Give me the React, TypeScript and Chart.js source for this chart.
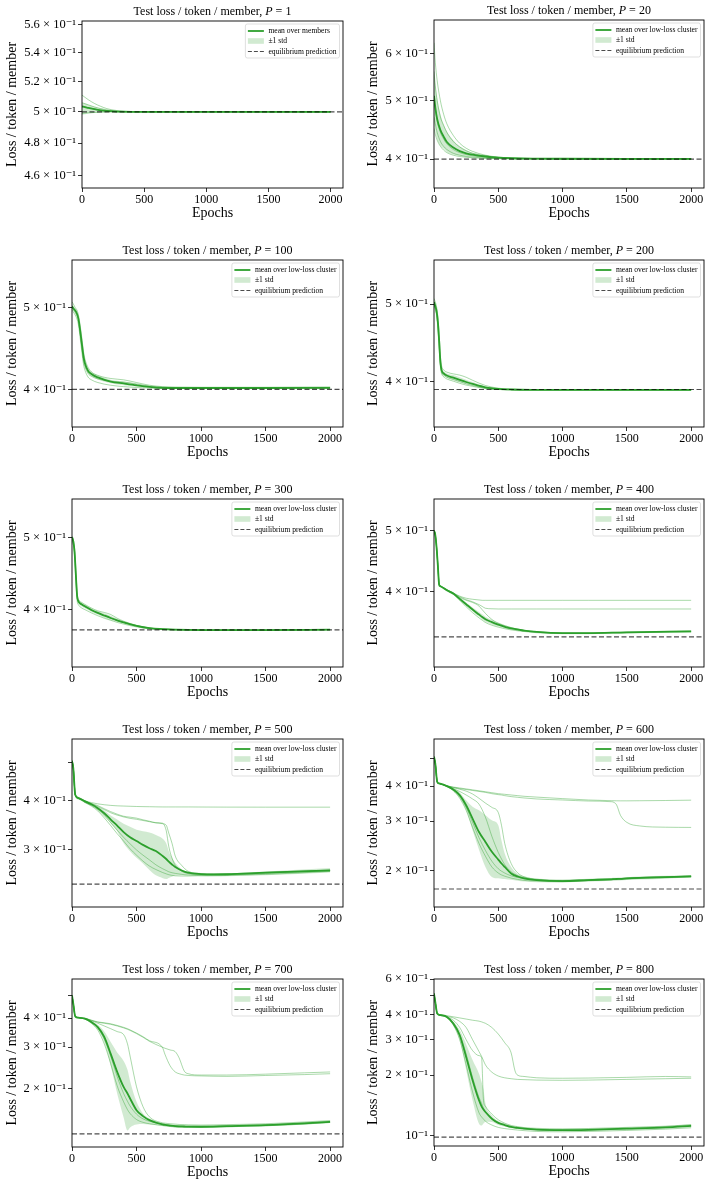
import React, { useEffect, useRef } from "react";
import { Chart, registerables } from "chart.js";

Chart.register(...registerables);

// ---------------- data ----------------
const X_TICKS = [0, 500, 1000, 1500, 2000];
const X_MAX = 2100;

// P = 1
const P1_EPOCHS = [0, 25, 50, 100, 150, 200, 250, 300, 400, 600, 1000, 1500, 2000];
const P1_MEAN = [0.5035, 0.5031, 0.5026, 0.5017, 0.501, 0.5006, 0.5003, 0.5001, 0.5, 0.5, 0.5, 0.5, 0.5];
const P1_STD_HI = [0.506, 0.5054, 0.5047, 0.5034, 0.5023, 0.5014, 0.5008, 0.5003, 0.5001, 0.5001, 0.5001, 0.5001, 0.5001];
const P1_STD_LO = [0.498, 0.4984, 0.4988, 0.4993, 0.4996, 0.4998, 0.4999, 0.5, 0.5, 0.4999, 0.4999, 0.4999, 0.4999];
const P1_MEMBER_A = [0.511, 0.5095, 0.508, 0.5055, 0.5036, 0.5021, 0.5012, 0.5006, 0.5002, 0.5, 0.5, 0.5, 0.5];
const P1_MEMBER_B = [0.506, 0.5053, 0.5046, 0.5032, 0.5021, 0.5013, 0.5007, 0.5003, 0.5001, 0.5, 0.5, 0.5, 0.5];
const P1_MEMBER_C = [0.5035, 0.5031, 0.5027, 0.5019, 0.5012, 0.5007, 0.5004, 0.5002, 0.5, 0.5, 0.5, 0.5, 0.5];
const P1_MEMBER_D = [0.499, 0.4992, 0.4994, 0.4996, 0.4998, 0.4999, 0.5, 0.5, 0.5, 0.5, 0.5, 0.5, 0.5];
const P1_EQ = 0.5;
const P1_Y_RANGE = [0.4527, 0.5629];
const P1_Y_TICKS = [0.46, 0.48, 0.5, 0.52, 0.54, 0.56];
const P1_Y_LABELS = ["4.6 × 10⁻¹", "4.8 × 10⁻¹", "5 × 10⁻¹", "5.2 × 10⁻¹", "5.4 × 10⁻¹", "5.6 × 10⁻¹"];

// P = 20
const P2_EPOCHS = [0, 10, 25, 50, 75, 100, 150, 200, 250, 300, 400, 500, 600, 800, 1000, 1500, 2000];
const P2_MEAN = [0.51, 0.488, 0.466, 0.447, 0.436, 0.427, 0.418, 0.4124, 0.409, 0.4068, 0.404, 0.4022, 0.4013, 0.4007, 0.4005, 0.4004, 0.4004];
const P2_STD_HI = [0.56, 0.535, 0.505, 0.475, 0.457, 0.445, 0.43, 0.42, 0.414, 0.41, 0.406, 0.4032, 0.4018, 0.401, 0.4007, 0.4006, 0.4006];
const P2_STD_LO = [0.462, 0.447, 0.432, 0.421, 0.416, 0.411, 0.407, 0.405, 0.404, 0.4035, 0.402, 0.4013, 0.4008, 0.4004, 0.4003, 0.4002, 0.4002];
const P2_MEMBER_A = [0.625, 0.58, 0.54, 0.5, 0.475, 0.458, 0.438, 0.425, 0.417, 0.412, 0.406, 0.403, 0.4015, 0.4008, 0.4005, 0.4004, 0.4004];
const P2_MEMBER_B = [0.56, 0.53, 0.5, 0.47, 0.455, 0.443, 0.428, 0.419, 0.413, 0.409, 0.405, 0.4025, 0.4015, 0.4008, 0.4005, 0.4004, 0.4004];
const P2_MEMBER_C = [0.5, 0.485, 0.462, 0.443, 0.432, 0.424, 0.415, 0.41, 0.407, 0.405, 0.403, 0.4018, 0.401, 0.4006, 0.4004, 0.4004, 0.4004];
const P2_MEMBER_D = [0.47, 0.458, 0.443, 0.428, 0.42, 0.415, 0.409, 0.406, 0.404, 0.403, 0.4015, 0.401, 0.4006, 0.4004, 0.4003, 0.4003, 0.4003];
const P2_MEMBER_E = [0.45, 0.44, 0.43, 0.42, 0.414, 0.41, 0.406, 0.404, 0.4028, 0.402, 0.401, 0.4006, 0.4004, 0.4003, 0.4003, 0.4003, 0.4003];
const P2_EQ = 0.4;
const P2_Y_RANGE = [0.358, 0.682];
const P2_Y_TICKS = [0.4, 0.5, 0.6];
const P2_Y_LABELS = ["4 × 10⁻¹", "5 × 10⁻¹", "6 × 10⁻¹"];

// P = 100
const P3_EPOCHS = [0, 10, 25, 40, 50, 60, 75, 90, 100, 125, 150, 200, 300, 400, 500, 600, 700, 800, 1000, 1500, 2000];
const P3_MEAN = [0.502, 0.499, 0.496, 0.491, 0.485, 0.474, 0.455, 0.437, 0.43, 0.421, 0.4175, 0.4137, 0.4091, 0.407, 0.405, 0.4033, 0.4022, 0.402, 0.402, 0.402, 0.4022];
const P3_STD_HI = [0.505, 0.502, 0.499, 0.494, 0.488, 0.478, 0.459, 0.441, 0.433, 0.424, 0.42, 0.416, 0.411, 0.409, 0.4065, 0.4042, 0.403, 0.4027, 0.4027, 0.4027, 0.4029];
const P3_STD_LO = [0.499, 0.496, 0.493, 0.488, 0.482, 0.47, 0.451, 0.433, 0.427, 0.418, 0.415, 0.4114, 0.4072, 0.405, 0.4035, 0.4024, 0.4014, 0.4013, 0.4013, 0.4013, 0.4015];
const P3_MEMBER_A = [0.508, 0.505, 0.5, 0.496, 0.49, 0.48, 0.462, 0.443, 0.435, 0.425, 0.42, 0.416, 0.4125, 0.411, 0.408, 0.405, 0.4035, 0.403, 0.4028, 0.4028, 0.403];
const P3_MEMBER_B = [0.5, 0.497, 0.493, 0.488, 0.482, 0.47, 0.45, 0.432, 0.426, 0.418, 0.415, 0.412, 0.4095, 0.4085, 0.4065, 0.404, 0.403, 0.4025, 0.4025, 0.4025, 0.4027];
const P3_MEMBER_C = [0.497, 0.494, 0.49, 0.484, 0.477, 0.465, 0.445, 0.428, 0.422, 0.414, 0.411, 0.408, 0.405, 0.4035, 0.4025, 0.402, 0.4015, 0.4015, 0.4015, 0.4015, 0.4015];
const P3_EQ = 0.4005;
const P3_Y_RANGE = [0.3616, 0.569];
const P3_Y_TICKS = [0.4, 0.5];
const P3_Y_LABELS = ["4 × 10⁻¹", "5 × 10⁻¹"];

// P = 200
const P4_EPOCHS = [0, 10, 20, 30, 40, 50, 60, 80, 100, 150, 200, 250, 300, 400, 500, 600, 800, 1000, 1500, 2000];
const P4_MEAN = [0.503, 0.497, 0.49, 0.475, 0.45, 0.423, 0.413, 0.409, 0.407, 0.4045, 0.402, 0.3995, 0.3973, 0.3935, 0.3917, 0.391, 0.3906, 0.3905, 0.3905, 0.3905];
const P4_STD_HI = [0.506, 0.5, 0.493, 0.479, 0.454, 0.427, 0.416, 0.4115, 0.4095, 0.4075, 0.405, 0.4022, 0.3995, 0.3948, 0.3924, 0.3913, 0.3908, 0.3907, 0.3907, 0.3907];
const P4_STD_LO = [0.5, 0.494, 0.487, 0.471, 0.446, 0.419, 0.41, 0.4065, 0.4045, 0.4015, 0.399, 0.397, 0.3952, 0.3922, 0.391, 0.3907, 0.3904, 0.3903, 0.3903, 0.3903];
const P4_MEMBER_A = [0.508, 0.503, 0.496, 0.482, 0.458, 0.43, 0.418, 0.413, 0.411, 0.409, 0.4075, 0.405, 0.4015, 0.3955, 0.3925, 0.3912, 0.3907, 0.3905, 0.3905, 0.3905];
const P4_MEMBER_B = [0.5, 0.494, 0.486, 0.47, 0.445, 0.42, 0.411, 0.407, 0.405, 0.4025, 0.4, 0.3975, 0.3955, 0.3925, 0.3912, 0.3907, 0.3905, 0.3905, 0.3905, 0.3905];
const P4_MEMBER_C = [0.498, 0.492, 0.484, 0.466, 0.44, 0.417, 0.409, 0.405, 0.403, 0.4005, 0.398, 0.396, 0.3945, 0.392, 0.391, 0.3906, 0.3905, 0.3904, 0.3904, 0.3904];
const P4_EQ = 0.391;
const P4_Y_RANGE = [0.351, 0.5675];
const P4_Y_TICKS = [0.4, 0.5];
const P4_Y_LABELS = ["4 × 10⁻¹", "5 × 10⁻¹"];

// P = 300
const P5_EPOCHS = [0, 10, 20, 30, 40, 50, 75, 100, 150, 200, 250, 300, 350, 400, 500, 600, 700, 800, 1000, 1500, 2000];
const P5_MEAN = [0.5, 0.494, 0.478, 0.445, 0.4166, 0.4103, 0.4065, 0.4041, 0.3995, 0.3959, 0.3928, 0.3898, 0.387, 0.3845, 0.3805, 0.3778, 0.3767, 0.376, 0.3755, 0.3755, 0.376];
const P5_STD_HI = [0.503, 0.497, 0.482, 0.45, 0.42, 0.413, 0.409, 0.4065, 0.4018, 0.3982, 0.3955, 0.3925, 0.3888, 0.3858, 0.3813, 0.3783, 0.377, 0.3763, 0.3758, 0.3758, 0.3763];
const P5_STD_LO = [0.497, 0.491, 0.474, 0.44, 0.413, 0.4075, 0.404, 0.4017, 0.3972, 0.3936, 0.3901, 0.3871, 0.3852, 0.3832, 0.3797, 0.3773, 0.3764, 0.3757, 0.3752, 0.3752, 0.3757];
const P5_MEMBER_A = [0.502, 0.497, 0.483, 0.452, 0.421, 0.413, 0.409, 0.4065, 0.402, 0.3985, 0.3965, 0.394, 0.3895, 0.386, 0.381, 0.378, 0.3768, 0.376, 0.3756, 0.3756, 0.376];
const P5_MEMBER_B = [0.498, 0.49, 0.472, 0.438, 0.411, 0.406, 0.402, 0.4, 0.396, 0.3925, 0.3895, 0.387, 0.3845, 0.3825, 0.3792, 0.377, 0.3762, 0.3757, 0.3755, 0.3755, 0.3758];
const P5_MEMBER_C = [0.5, 0.493, 0.477, 0.444, 0.416, 0.41, 0.406, 0.4035, 0.399, 0.3955, 0.3925, 0.3895, 0.3868, 0.3845, 0.3806, 0.3779, 0.3767, 0.376, 0.3755, 0.3755, 0.376];
const P5_EQ = 0.3757;
const P5_Y_RANGE = [0.335, 0.563];
const P5_Y_TICKS = [0.4, 0.5];
const P5_Y_LABELS = ["4 × 10⁻¹", "5 × 10⁻¹"];

// P = 400
const P6_EPOCHS = [0, 10, 20, 30, 40, 50, 100, 150, 200, 250, 300, 350, 375, 400, 450, 500, 600, 700, 800, 1000, 1200, 1500, 2000];
const P6_MEAN = [0.5, 0.492, 0.47, 0.44, 0.4107, 0.4083, 0.4024, 0.3976, 0.39, 0.3825, 0.3752, 0.3685, 0.3652, 0.3622, 0.3585, 0.3553, 0.3503, 0.3477, 0.3459, 0.3444, 0.3444, 0.3455, 0.3467];
const P6_STD_HI = [0.502, 0.494, 0.472, 0.442, 0.4125, 0.41, 0.404, 0.3995, 0.392, 0.385, 0.378, 0.372, 0.3688, 0.3655, 0.3615, 0.358, 0.352, 0.3488, 0.3468, 0.345, 0.345, 0.3462, 0.3474];
const P6_STD_LO = [0.498, 0.49, 0.468, 0.438, 0.409, 0.4066, 0.4008, 0.3957, 0.388, 0.38, 0.3725, 0.3655, 0.362, 0.359, 0.3555, 0.3527, 0.3487, 0.3466, 0.345, 0.3438, 0.3438, 0.3449, 0.346];
const P6_MEMBER_A = [0.5, 0.493, 0.472, 0.442, 0.412, 0.409, 0.4035, 0.3985, 0.394, 0.391, 0.3895, 0.3885, 0.388, 0.388, 0.388, 0.388, 0.388, 0.388, 0.388, 0.388, 0.388, 0.388, 0.388];
const P6_MEMBER_B = [0.5, 0.493, 0.471, 0.441, 0.411, 0.4085, 0.403, 0.398, 0.393, 0.389, 0.386, 0.382, 0.3795, 0.377, 0.3763, 0.376, 0.376, 0.376, 0.376, 0.376, 0.376, 0.376, 0.376];
const P6_MEMBER_C = [0.5, 0.492, 0.47, 0.44, 0.411, 0.4085, 0.4028, 0.398, 0.392, 0.388, 0.385, 0.38, 0.375, 0.37, 0.362, 0.357, 0.3515, 0.348, 0.346, 0.3448, 0.3448, 0.3458, 0.347];
const P6_MEMBER_D = [0.5, 0.491, 0.469, 0.439, 0.41, 0.408, 0.402, 0.3965, 0.388, 0.379, 0.371, 0.364, 0.361, 0.358, 0.3545, 0.352, 0.3485, 0.3465, 0.345, 0.3438, 0.3438, 0.3448, 0.346];
const P6_EQ = 0.3398;
const P6_Y_RANGE = [0.3046, 0.5605];
const P6_Y_TICKS = [0.4, 0.5];
const P6_Y_LABELS = ["4 × 10⁻¹", "5 × 10⁻¹"];

// P = 500
const P7_EPOCHS = [0, 10, 25, 50, 100, 150, 200, 250, 300, 350, 400, 450, 500, 550, 600, 650, 700, 730, 750, 775, 800, 850, 900, 1000, 1100, 1200, 1500, 2000];
const P7_MEAN = [0.505, 0.484, 0.4134, 0.4055, 0.3977, 0.391, 0.3822, 0.371, 0.3574, 0.345, 0.332, 0.322, 0.315, 0.308, 0.302, 0.297, 0.289, 0.2835, 0.279, 0.2745, 0.2705, 0.265, 0.2615, 0.2595, 0.259, 0.2592, 0.2616, 0.2652];
const P7_STD_HI = [0.51, 0.49, 0.417, 0.409, 0.401, 0.394, 0.386, 0.377, 0.366, 0.3574, 0.3487, 0.3427, 0.3366, 0.3336, 0.3311, 0.3264, 0.3198, 0.311, 0.2967, 0.2855, 0.2775, 0.2668, 0.2613, 0.2605, 0.2603, 0.2605, 0.2633, 0.269];
const P7_STD_LO = [0.5, 0.478, 0.41, 0.402, 0.3945, 0.387, 0.378, 0.365, 0.35, 0.3336, 0.311, 0.2967, 0.2855, 0.2761, 0.2658, 0.2575, 0.2536, 0.252, 0.2536, 0.2555, 0.2572, 0.2578, 0.2575, 0.2562, 0.2558, 0.2562, 0.2575, 0.262];
const P7_MEMBER_A = [0.505, 0.485, 0.414, 0.406, 0.399, 0.395, 0.392, 0.39, 0.3885, 0.3875, 0.387, 0.3865, 0.386, 0.3857, 0.3855, 0.3852, 0.385, 0.385, 0.385, 0.385, 0.385, 0.385, 0.385, 0.3848, 0.3847, 0.3846, 0.3845, 0.3845];
const P7_MEMBER_B = [0.505, 0.485, 0.414, 0.406, 0.3985, 0.393, 0.388, 0.381, 0.3745, 0.369, 0.3645, 0.3625, 0.3605, 0.357, 0.354, 0.351, 0.35, 0.335, 0.305, 0.285, 0.2733, 0.2638, 0.2603, 0.259, 0.2588, 0.259, 0.2615, 0.265];
const P7_MEMBER_C = [0.505, 0.485, 0.414, 0.406, 0.3985, 0.392, 0.386, 0.379, 0.372, 0.367, 0.363, 0.36, 0.358, 0.3555, 0.353, 0.3505, 0.349, 0.3458, 0.33, 0.311, 0.2885, 0.273, 0.2638, 0.2603, 0.2595, 0.2597, 0.262, 0.2655];
const P7_MEMBER_D = [0.505, 0.484, 0.413, 0.405, 0.395, 0.387, 0.376, 0.361, 0.345, 0.329, 0.315, 0.301, 0.29, 0.28, 0.272, 0.2665, 0.262, 0.2598, 0.2585, 0.2575, 0.2568, 0.2565, 0.2565, 0.257, 0.2572, 0.2575, 0.259, 0.2635];
const P7_MEMBER_E = [0.505, 0.484, 0.413, 0.405, 0.396, 0.389, 0.379, 0.366, 0.351, 0.336, 0.322, 0.31, 0.299, 0.29, 0.282, 0.274, 0.268, 0.265, 0.263, 0.2615, 0.2605, 0.259, 0.258, 0.2578, 0.2578, 0.258, 0.2605, 0.2645];
const P7_EQ = 0.2446;
const P7_Y_RANGE = [0.2138, 0.574];
const P7_Y_TICKS = [0.3, 0.4, 0.5];
const P7_Y_LABELS = ["3 × 10⁻¹", "4 × 10⁻¹", ""];

// P = 600
const P8_EPOCHS = [0, 10, 25, 40, 100, 150, 200, 250, 300, 350, 400, 450, 500, 525, 550, 600, 650, 700, 800, 1000, 1200, 1380, 1400, 1420, 1450, 1500, 1600, 1800, 2000];
const P8_MEAN = [0.509, 0.482, 0.4143, 0.4088, 0.4, 0.3891, 0.3714, 0.3418, 0.3064, 0.2745, 0.253, 0.2333, 0.2188, 0.212, 0.2061, 0.1953, 0.1905, 0.1876, 0.185, 0.1835, 0.185, 0.1862, 0.1864, 0.1866, 0.1868, 0.1876, 0.1885, 0.1895, 0.1908];
const P8_STD_HI = [0.512, 0.487, 0.416, 0.41, 0.402, 0.393, 0.38, 0.356, 0.338, 0.328, 0.315, 0.302, 0.29, 0.256, 0.23, 0.206, 0.195, 0.191, 0.1875, 0.186, 0.1872, 0.1882, 0.1884, 0.1886, 0.1888, 0.1895, 0.1905, 0.1915, 0.1928];
const P8_STD_LO = [0.505, 0.477, 0.412, 0.4075, 0.398, 0.385, 0.3636, 0.3282, 0.2785, 0.2375, 0.2061, 0.1898, 0.1876, 0.187, 0.1865, 0.1853, 0.184, 0.1827, 0.1818, 0.1815, 0.1828, 0.184, 0.1842, 0.1843, 0.1845, 0.1852, 0.186, 0.1872, 0.1888];
const P8_MEMBER_A = [0.509, 0.482, 0.4143, 0.409, 0.401, 0.397, 0.394, 0.391, 0.388, 0.385, 0.382, 0.379, 0.376, 0.375, 0.374, 0.372, 0.37, 0.368, 0.3655, 0.361, 0.357, 0.355, 0.3548, 0.3546, 0.3545, 0.3545, 0.3548, 0.3555, 0.3565];
const P8_MEMBER_B = [0.509, 0.482, 0.4143, 0.409, 0.401, 0.396, 0.392, 0.389, 0.386, 0.383, 0.38, 0.376, 0.373, 0.372, 0.37, 0.367, 0.365, 0.363, 0.36, 0.357, 0.354, 0.352, 0.35, 0.343, 0.315, 0.297, 0.2885, 0.2855, 0.285];
const P8_MEMBER_C = [0.509, 0.482, 0.4143, 0.409, 0.401, 0.395, 0.39, 0.384, 0.375, 0.362, 0.348, 0.336, 0.322, 0.29, 0.25, 0.212, 0.1965, 0.19, 0.1862, 0.1845, 0.1855, 0.1868, 0.187, 0.1872, 0.1874, 0.188, 0.189, 0.19, 0.1912];
const P8_MEMBER_D = [0.509, 0.482, 0.4143, 0.409, 0.4, 0.392, 0.383, 0.372, 0.36, 0.345, 0.31, 0.265, 0.232, 0.22, 0.21, 0.198, 0.192, 0.1885, 0.1855, 0.184, 0.1852, 0.1864, 0.1866, 0.1868, 0.187, 0.1877, 0.1887, 0.1897, 0.191];
const P8_MEMBER_E = [0.509, 0.482, 0.4143, 0.408, 0.399, 0.385, 0.362, 0.328, 0.285, 0.25, 0.225, 0.206, 0.196, 0.193, 0.191, 0.188, 0.186, 0.1845, 0.1835, 0.1825, 0.184, 0.1852, 0.1854, 0.1856, 0.1858, 0.1866, 0.1875, 0.1886, 0.19];
const P8_MEMBER_F = [0.509, 0.482, 0.4143, 0.4085, 0.3995, 0.387, 0.367, 0.336, 0.297, 0.262, 0.236, 0.216, 0.203, 0.199, 0.196, 0.1915, 0.189, 0.187, 0.185, 0.1835, 0.1848, 0.186, 0.1862, 0.1864, 0.1866, 0.1873, 0.1882, 0.1893, 0.1905];
const P8_EQ = 0.1719;
const P8_Y_RANGE = [0.1483, 0.589];
const P8_Y_TICKS = [0.2, 0.3, 0.4, 0.5];
const P8_Y_LABELS = ["2 × 10⁻¹", "3 × 10⁻¹", "4 × 10⁻¹", ""];

// P = 700
const P9_EPOCHS = [0, 10, 25, 50, 100, 150, 200, 250, 300, 350, 400, 430, 450, 500, 550, 600, 700, 720, 760, 800, 830, 870, 900, 1000, 1200, 1500, 1800, 2000];
const P9_MEAN = [0.5, 0.461, 0.4066, 0.4013, 0.3974, 0.3845, 0.366, 0.3322, 0.2808, 0.2353, 0.2027, 0.19, 0.1809, 0.1612, 0.152, 0.1461, 0.14, 0.1395, 0.1385, 0.1377, 0.1374, 0.1372, 0.137, 0.1369, 0.1377, 0.139, 0.1415, 0.1437];
const P9_STD_HI = [0.505, 0.466, 0.409, 0.403, 0.399, 0.389, 0.374, 0.35, 0.316, 0.285, 0.262, 0.24, 0.215, 0.175, 0.156, 0.1485, 0.1418, 0.1412, 0.1402, 0.1395, 0.1392, 0.139, 0.1388, 0.1386, 0.1393, 0.1406, 0.1432, 0.1454];
const P9_STD_LO = [0.495, 0.456, 0.404, 0.3995, 0.3955, 0.379, 0.357, 0.315, 0.25, 0.19, 0.15, 0.132, 0.136, 0.14, 0.1405, 0.1398, 0.1382, 0.1378, 0.1368, 0.136, 0.1357, 0.1355, 0.1353, 0.1352, 0.1362, 0.1375, 0.1398, 0.142];
const P9_MEMBER_A = [0.5, 0.461, 0.407, 0.402, 0.399, 0.392, 0.385, 0.382, 0.378, 0.372, 0.365, 0.36, 0.356, 0.345, 0.333, 0.32, 0.3, 0.28, 0.25, 0.235, 0.231, 0.228, 0.227, 0.226, 0.225, 0.227, 0.229, 0.231];
const P9_MEMBER_B = [0.5, 0.461, 0.407, 0.402, 0.399, 0.391, 0.384, 0.38, 0.376, 0.37, 0.363, 0.358, 0.354, 0.343, 0.331, 0.318, 0.3, 0.297, 0.292, 0.287, 0.27, 0.237, 0.231, 0.228, 0.228, 0.23, 0.233, 0.235];
const P9_MEMBER_C = [0.5, 0.461, 0.407, 0.402, 0.398, 0.39, 0.38, 0.37, 0.36, 0.35, 0.34, 0.31, 0.275, 0.203, 0.167, 0.151, 0.1423, 0.1418, 0.141, 0.1405, 0.14, 0.1398, 0.1395, 0.1392, 0.1398, 0.141, 0.1435, 0.1455];
const P9_MEMBER_D = [0.5, 0.461, 0.406, 0.401, 0.396, 0.38, 0.355, 0.31, 0.255, 0.205, 0.175, 0.162, 0.156, 0.147, 0.143, 0.141, 0.1385, 0.138, 0.1372, 0.1366, 0.1363, 0.1361, 0.136, 0.136, 0.1368, 0.1382, 0.1405, 0.1428];
const P9_MEMBER_E = [0.5, 0.461, 0.406, 0.401, 0.397, 0.383, 0.362, 0.325, 0.275, 0.225, 0.19, 0.176, 0.168, 0.155, 0.148, 0.1445, 0.1405, 0.14, 0.139, 0.1382, 0.1378, 0.1375, 0.1373, 0.1372, 0.138, 0.1393, 0.1418, 0.144];
const P9_EQ = 0.1276;
const P9_Y_RANGE = [0.1121, 0.588];
const P9_Y_TICKS = [0.2, 0.3, 0.4, 0.5];
const P9_Y_LABELS = ["2 × 10⁻¹", "3 × 10⁻¹", "4 × 10⁻¹", ""];

// P = 800
const P10_EPOCHS = [0, 10, 25, 50, 100, 150, 200, 250, 300, 350, 370, 385, 400, 450, 500, 550, 600, 630, 650, 700, 800, 1000, 1200, 1500, 1800, 2000];
const P10_MEAN = [0.509, 0.462, 0.4046, 0.397, 0.3894, 0.3613, 0.3158, 0.2462, 0.1888, 0.15, 0.14, 0.135, 0.1312, 0.1215, 0.1158, 0.113, 0.1105, 0.1098, 0.1094, 0.1084, 0.1072, 0.1066, 0.107, 0.1084, 0.11, 0.112];
const P10_STD_HI = [0.515, 0.468, 0.407, 0.4, 0.393, 0.37, 0.335, 0.285, 0.2376, 0.2035, 0.185, 0.17, 0.145, 0.126, 0.1185, 0.115, 0.112, 0.1112, 0.1108, 0.1098, 0.1086, 0.108, 0.1085, 0.11, 0.1118, 0.114];
const P10_STD_LO = [0.503, 0.456, 0.402, 0.394, 0.386, 0.353, 0.298, 0.213, 0.15, 0.1147, 0.1125, 0.115, 0.1175, 0.117, 0.1132, 0.111, 0.109, 0.1084, 0.108, 0.107, 0.1058, 0.1052, 0.1056, 0.1068, 0.1083, 0.1102];
const P10_MEMBER_A = [0.509, 0.462, 0.405, 0.4, 0.395, 0.39, 0.385, 0.38, 0.375, 0.371, 0.368, 0.365, 0.362, 0.345, 0.32, 0.29, 0.258, 0.21, 0.2, 0.197, 0.194, 0.193, 0.1935, 0.195, 0.197, 0.196];
const P10_MEMBER_B = [0.509, 0.462, 0.405, 0.399, 0.392, 0.385, 0.37, 0.345, 0.3, 0.262, 0.248, 0.236, 0.225, 0.207, 0.198, 0.194, 0.192, 0.191, 0.1905, 0.19, 0.189, 0.1885, 0.189, 0.1905, 0.192, 0.193];
const P10_MEMBER_C = [0.509, 0.462, 0.405, 0.398, 0.39, 0.375, 0.345, 0.3, 0.265, 0.25, 0.245, 0.15, 0.14, 0.128, 0.12, 0.1155, 0.1125, 0.1115, 0.111, 0.1098, 0.1088, 0.1082, 0.1086, 0.11, 0.1115, 0.1135];
const P10_MEMBER_D = [0.509, 0.462, 0.404, 0.396, 0.387, 0.355, 0.3, 0.225, 0.165, 0.13, 0.124, 0.121, 0.118, 0.113, 0.11, 0.1085, 0.1075, 0.107, 0.1067, 0.106, 0.105, 0.1046, 0.105, 0.1062, 0.1078, 0.1095];
const P10_MEMBER_E = [0.509, 0.462, 0.404, 0.397, 0.389, 0.365, 0.32, 0.255, 0.195, 0.155, 0.145, 0.137, 0.132, 0.122, 0.116, 0.1125, 0.1105, 0.1098, 0.1094, 0.1084, 0.1072, 0.1066, 0.107, 0.1084, 0.11, 0.112];
const P10_EQ = 0.0985;
const P10_Y_RANGE = [0.0889, 0.601];
const P10_Y_TICKS = [0.1, 0.2, 0.3, 0.4, 0.5, 0.6];
const P10_Y_LABELS = ["10⁻¹", "2 × 10⁻¹", "3 × 10⁻¹", "4 × 10⁻¹", "", "6 × 10⁻¹"];

const P_VALUES = [1, 20, 100, 200, 300, 400, 500, 600, 700, 800];

// ---------------- styling / layout ----------------
const FONT = '"Liberation Serif", "DejaVu Serif", serif';
const GREEN = "#2ca02c";
const MEMBER_COLOR = "rgba(44,160,44,0.45)";
const BAND_COLOR = "rgba(44,160,44,0.22)";
const EQ_COLOR = "rgba(0,0,0,0.7)";

// plot-area rectangles (left, top, right, bottom) in page pixels
const PLOT_RECTS = [
  [82, 21, 343, 188],
  [434, 20, 704, 188],
  [72, 260, 343, 427],
  [434, 260, 704, 427],
  [72, 499, 343, 667],
  [434, 499, 704, 667],
  [72, 739, 343, 907],
  [434, 739, 704, 907],
  [72, 979, 343, 1147],
  [434, 979, 704, 1146],
];

type PanelData = {
  p: number;
  epochs: number[];
  mean: number[];
  hi: number[];
  lo: number[];
  members: number[][];
  eq: number;
  yRange: number[];
  yTicks: number[];
  yLabels: string[];
  meanLabel: string;
};

const PANELS: PanelData[] = [
  { p: P_VALUES[0], epochs: P1_EPOCHS, mean: P1_MEAN, hi: P1_STD_HI, lo: P1_STD_LO, members: [P1_MEMBER_A, P1_MEMBER_B, P1_MEMBER_C, P1_MEMBER_D], eq: P1_EQ, yRange: P1_Y_RANGE, yTicks: P1_Y_TICKS, yLabels: P1_Y_LABELS, meanLabel: "mean over members" },
  { p: P_VALUES[1], epochs: P2_EPOCHS, mean: P2_MEAN, hi: P2_STD_HI, lo: P2_STD_LO, members: [P2_MEMBER_A, P2_MEMBER_B, P2_MEMBER_C, P2_MEMBER_D, P2_MEMBER_E], eq: P2_EQ, yRange: P2_Y_RANGE, yTicks: P2_Y_TICKS, yLabels: P2_Y_LABELS, meanLabel: "mean over low-loss cluster" },
  { p: P_VALUES[2], epochs: P3_EPOCHS, mean: P3_MEAN, hi: P3_STD_HI, lo: P3_STD_LO, members: [P3_MEMBER_A, P3_MEMBER_B, P3_MEMBER_C], eq: P3_EQ, yRange: P3_Y_RANGE, yTicks: P3_Y_TICKS, yLabels: P3_Y_LABELS, meanLabel: "mean over low-loss cluster" },
  { p: P_VALUES[3], epochs: P4_EPOCHS, mean: P4_MEAN, hi: P4_STD_HI, lo: P4_STD_LO, members: [P4_MEMBER_A, P4_MEMBER_B, P4_MEMBER_C], eq: P4_EQ, yRange: P4_Y_RANGE, yTicks: P4_Y_TICKS, yLabels: P4_Y_LABELS, meanLabel: "mean over low-loss cluster" },
  { p: P_VALUES[4], epochs: P5_EPOCHS, mean: P5_MEAN, hi: P5_STD_HI, lo: P5_STD_LO, members: [P5_MEMBER_A, P5_MEMBER_B, P5_MEMBER_C], eq: P5_EQ, yRange: P5_Y_RANGE, yTicks: P5_Y_TICKS, yLabels: P5_Y_LABELS, meanLabel: "mean over low-loss cluster" },
  { p: P_VALUES[5], epochs: P6_EPOCHS, mean: P6_MEAN, hi: P6_STD_HI, lo: P6_STD_LO, members: [P6_MEMBER_A, P6_MEMBER_B, P6_MEMBER_C, P6_MEMBER_D], eq: P6_EQ, yRange: P6_Y_RANGE, yTicks: P6_Y_TICKS, yLabels: P6_Y_LABELS, meanLabel: "mean over low-loss cluster" },
  { p: P_VALUES[6], epochs: P7_EPOCHS, mean: P7_MEAN, hi: P7_STD_HI, lo: P7_STD_LO, members: [P7_MEMBER_A, P7_MEMBER_B, P7_MEMBER_C, P7_MEMBER_D, P7_MEMBER_E], eq: P7_EQ, yRange: P7_Y_RANGE, yTicks: P7_Y_TICKS, yLabels: P7_Y_LABELS, meanLabel: "mean over low-loss cluster" },
  { p: P_VALUES[7], epochs: P8_EPOCHS, mean: P8_MEAN, hi: P8_STD_HI, lo: P8_STD_LO, members: [P8_MEMBER_A, P8_MEMBER_B, P8_MEMBER_C, P8_MEMBER_D, P8_MEMBER_E, P8_MEMBER_F], eq: P8_EQ, yRange: P8_Y_RANGE, yTicks: P8_Y_TICKS, yLabels: P8_Y_LABELS, meanLabel: "mean over low-loss cluster" },
  { p: P_VALUES[8], epochs: P9_EPOCHS, mean: P9_MEAN, hi: P9_STD_HI, lo: P9_STD_LO, members: [P9_MEMBER_A, P9_MEMBER_B, P9_MEMBER_C, P9_MEMBER_D, P9_MEMBER_E], eq: P9_EQ, yRange: P9_Y_RANGE, yTicks: P9_Y_TICKS, yLabels: P9_Y_LABELS, meanLabel: "mean over low-loss cluster" },
  { p: P_VALUES[9], epochs: P10_EPOCHS, mean: P10_MEAN, hi: P10_STD_HI, lo: P10_STD_LO, members: [P10_MEMBER_A, P10_MEMBER_B, P10_MEMBER_C, P10_MEMBER_D, P10_MEMBER_E], eq: P10_EQ, yRange: P10_Y_RANGE, yTicks: P10_Y_TICKS, yLabels: P10_Y_LABELS, meanLabel: "mean over low-loss cluster" },
];

const TOP_PAD = 22;
const X_AXIS_H = 34;
const BOTTOM_EXTRA = 6;

function toPoints(epochs: number[], vals: number[]) {
  return epochs.map((e, i) => ({ x: e, y: vals[i] }));
}

const decorPlugin = {
  id: "panelDecor",
  afterDraw(chart: any, _args: any, opts: any) {
    const { ctx, chartArea: ca } = chart;
    ctx.save();
    // frame
    ctx.strokeStyle = "#000";
    ctx.lineWidth = 0.9;
    ctx.strokeRect(ca.left, ca.top, ca.right - ca.left, ca.bottom - ca.top);

    // title with italic P
    const parts = [
      { t: "Test loss / token / member, ", it: false },
      { t: "P", it: true },
      { t: " = " + opts.p, it: false },
    ];
    const fs = 12;
    let total = 0;
    const widths = parts.map((pt) => {
      ctx.font = `${pt.it ? "italic " : ""}${fs}px ${FONT}`;
      const w = ctx.measureText(pt.t).width;
      total += w;
      return w;
    });
    let x = (ca.left + ca.right) / 2 - total / 2;
    ctx.fillStyle = "#000";
    ctx.textBaseline = "alphabetic";
    ctx.textAlign = "left";
    parts.forEach((pt, i) => {
      ctx.font = `${pt.it ? "italic " : ""}${fs}px ${FONT}`;
      ctx.fillText(pt.t, x, ca.top - 6);
      x += widths[i];
    });

    // legend
    const lfs = 7.6;
    ctx.font = `${lfs}px ${FONT}`;
    const texts = [opts.meanLabel, "±1 std", "equilibrium prediction"];
    const tw = Math.max(...texts.map((t: string) => ctx.measureText(t).width));
    const boxW = 2.5 + 16 + 4.5 + tw + 3;
    const boxH = 34;
    const bx = ca.right - 3.5 - boxW;
    const by = ca.top + 3;
    ctx.beginPath();
    const r = 2;
    ctx.moveTo(bx + r, by);
    ctx.lineTo(bx + boxW - r, by);
    ctx.quadraticCurveTo(bx + boxW, by, bx + boxW, by + r);
    ctx.lineTo(bx + boxW, by + boxH - r);
    ctx.quadraticCurveTo(bx + boxW, by + boxH, bx + boxW - r, by + boxH);
    ctx.lineTo(bx + r, by + boxH);
    ctx.quadraticCurveTo(bx, by + boxH, bx, by + boxH - r);
    ctx.lineTo(bx, by + r);
    ctx.quadraticCurveTo(bx, by, bx + r, by);
    ctx.closePath();
    ctx.fillStyle = "rgba(255,255,255,0.8)";
    ctx.fill();
    ctx.strokeStyle = "rgba(204,204,204,0.8)";
    ctx.lineWidth = 0.8;
    ctx.stroke();

    const rows = [by + 7, by + 17, by + 27.5];
    const lx = bx + 2.5;
    ctx.strokeStyle = GREEN;
    ctx.lineWidth = 1.8;
    ctx.beginPath();
    ctx.moveTo(lx, rows[0]);
    ctx.lineTo(lx + 16, rows[0]);
    ctx.stroke();
    ctx.fillStyle = BAND_COLOR;
    ctx.fillRect(lx, rows[1] - 2.8, 16, 5.6);
    ctx.strokeStyle = EQ_COLOR;
    ctx.lineWidth = 1.2;
    ctx.setLineDash([4, 2]);
    ctx.beginPath();
    ctx.moveTo(lx, rows[2]);
    ctx.lineTo(lx + 16, rows[2]);
    ctx.stroke();
    ctx.setLineDash([]);

    ctx.fillStyle = "#000";
    ctx.font = `${lfs}px ${FONT}`;
    ctx.textBaseline = "middle";
    texts.forEach((t: string, i: number) => ctx.fillText(t, lx + 20.5, rows[i]));
    ctx.restore();
  },
};

function Panel({ data, index }: { data: PanelData; index: number }) {
  const ref = useRef<HTMLCanvasElement | null>(null);
  const [L, T, R, B] = PLOT_RECTS[index];
  const col = index % 2;
  const cx = col === 0 ? 0 : 355;
  const cw = col === 0 ? 355 : 356;
  const cy = T - TOP_PAD;
  const ch = B - T + TOP_PAD + X_AXIS_H + BOTTOM_EXTRA;
  const padLeft = col === 0 ? 3.6 : 9.6;
  const yAxisW = L - cx - padLeft;
  const padRight = cw - (R - cx);

  useEffect(() => {
    if (!ref.current) return;
    const datasets: any[] = [];
    datasets.push({
      label: "equilibrium prediction",
      data: [
        { x: 0, y: data.eq },
        { x: X_MAX, y: data.eq },
      ],
      borderColor: EQ_COLOR,
      borderWidth: 1.2,
      borderDash: [5, 2.5],
      pointRadius: 0,
      fill: false,
      order: 0,
    });
    datasets.push({
      label: data.meanLabel,
      data: toPoints(data.epochs, data.mean),
      borderColor: GREEN,
      borderWidth: 1.8,
      pointRadius: 0,
      fill: false,
      cubicInterpolationMode: "monotone",
      order: 1,
    });
    data.members.forEach((m, i) => {
      datasets.push({
        label: "member " + (i + 1),
        data: toPoints(data.epochs, m),
        borderColor: MEMBER_COLOR,
        borderWidth: 0.9,
        pointRadius: 0,
        fill: false,
        cubicInterpolationMode: "monotone",
        order: 2,
      });
    });
    datasets.push({
      label: "std lo",
      data: toPoints(data.epochs, data.lo),
      borderColor: "rgba(0,0,0,0)",
      borderWidth: 0,
      pointRadius: 0,
      fill: false,
      cubicInterpolationMode: "monotone",
      order: 3,
    });
    datasets.push({
      label: "±1 std",
      data: toPoints(data.epochs, data.hi),
      borderColor: "rgba(0,0,0,0)",
      borderWidth: 0,
      pointRadius: 0,
      fill: "-1",
      backgroundColor: BAND_COLOR,
      cubicInterpolationMode: "monotone",
      order: 3,
    });

    const chart = new Chart(ref.current, {
      type: "line",
      data: { datasets },
      plugins: [decorPlugin],
      options: {
        responsive: false,
        maintainAspectRatio: false,
        animation: false,
        devicePixelRatio: 1,
        events: [],
        layout: {
          autoPadding: false,
          padding: { left: padLeft, top: TOP_PAD, right: padRight, bottom: BOTTOM_EXTRA },
        },
        plugins: {
          legend: { display: false },
          tooltip: { enabled: false },
          title: { display: false },
          panelDecor: { p: data.p, meanLabel: data.meanLabel },
        } as any,
        scales: {
          x: {
            type: "linear",
            min: 0,
            max: X_MAX,
            bounds: "data",
            afterBuildTicks: (s: any) => {
              s.ticks = X_TICKS.map((v) => ({ value: v }));
            },
            afterFit: (s: any) => {
              s.height = X_AXIS_H;
            },
            grid: { display: true, drawOnChartArea: false, drawTicks: true, tickLength: 4, color: "#000", tickColor: "#000", lineWidth: 0.8 },
            border: { display: false },
            ticks: { color: "#000", font: { family: FONT, size: 12 }, padding: 1, autoSkip: false, maxRotation: 0, minRotation: 0, callback: (v: any) => String(v) },
            title: { display: true, text: "Epochs", color: "#000", font: { family: FONT, size: 14 }, padding: { top: 0, bottom: 0 } },
          },
          y: {
            type: "logarithmic",
            min: data.yRange[0],
            max: data.yRange[1],
            bounds: "data",
            afterBuildTicks: (s: any) => {
              s.ticks = data.yTicks.map((v) => ({ value: v }));
            },
            afterFit: (s: any) => {
              s.width = yAxisW;
            },
            grid: { display: true, drawOnChartArea: false, drawTicks: true, tickLength: 4, color: "#000", tickColor: "#000", lineWidth: 0.8 },
            border: { display: false },
            ticks: {
              color: "#000",
              font: { family: FONT, size: 12.5 },
              padding: 2,
              autoSkip: false,
              callback: (v: any) => {
                const i = data.yTicks.findIndex((t) => Math.abs(t - Number(v)) < 1e-9);
                return i >= 0 ? data.yLabels[i] : "";
              },
            },
            title: { display: true, text: "Loss / token / member", color: "#000", font: { family: FONT, size: 14 }, padding: { top: 0, bottom: 0 } },
          },
        },
      } as any,
    });
    return () => chart.destroy();
  }, []);

  return (
    <canvas
      ref={ref}
      width={cw}
      height={ch}
      style={{ position: "absolute", left: cx, top: cy, width: cw, height: ch }}
    />
  );
}

export default function App() {
  return (
    <div style={{ position: "absolute", left: 0, top: 0, width: 711, height: 1187, background: "#fff", overflow: "hidden" }}>
      {PANELS.map((d, i) => (
        <Panel key={i} data={d} index={i} />
      ))}
    </div>
  );
}
